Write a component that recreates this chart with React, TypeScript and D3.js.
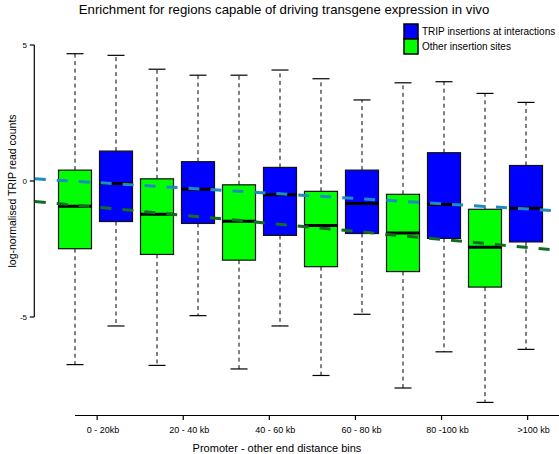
import React from "react";
import * as d3 from "d3";

const groups = ["0 - 20kb", "20 - 40 kb", "40 - 60 kb", "60 - 80 kb", "80 -100 kb", ">100 kb"];
// [min, q1, median, q3, max]
const otherStats = [
  [-6.75, -2.49, -0.93, 0.4, 4.68],
  [-6.78, -2.7, -1.22, 0.08, 4.11],
  [-6.91, -2.91, -1.48, -0.14, 3.89],
  [-7.15, -3.15, -1.64, -0.38, 3.76],
  [-7.61, -3.33, -1.91, -0.49, 3.61],
  [-8.14, -3.9, -2.44, -1.04, 3.22],
];
const tripStats = [
  [-5.33, -1.49, -0.09, 1.1, 4.62],
  [-4.95, -1.56, -0.3, 0.71, 3.89],
  [-5.33, -2.0, -0.51, 0.5, 4.08],
  [-4.9, -1.93, -0.83, 0.4, 2.98],
  [-6.28, -2.11, -0.86, 1.04, 3.65],
  [-6.19, -2.24, -1.0, 0.57, 2.89],
];
// trend lines: [position, value] endpoints
const tripTrend = [[0, 0.08], [12.8, -1.1]];
const otherTrend = [[0, -0.75], [12.8, -2.55]];
const groupTickPos = [1.54, 3.64, 5.74, 7.84, 9.94, 12.04];
const yTicks = [-5, 0, 5];
const seriesNames = ["TRIP insertions at interactions", "Other insertion sites"];

const W = 559, H = 454;
const FONT = "'Liberation Sans', Arial, Helvetica, sans-serif";
const BLUE = "#0000ff", GREEN = "#00ff00";
const TEAL = "#1f8cc0", DKGREEN = "#136b24";

export default function App() {
  const x = d3.scaleLinear().domain([1, 12]).range([75, 526]);
  const y = d3.scaleLinear().domain([-5, 5]).range([317, 45]);
  const axisX = 34.3;
  const boxW = 33;
  const capW = 17;

  const boxes: { pos: number; s: number[]; fill: string }[] = [];
  groups.forEach((g, i) => {
    boxes.push({ pos: 1 + i * 2, s: otherStats[i], fill: GREEN });
    boxes.push({ pos: 2 + i * 2, s: tripStats[i], fill: BLUE });
  });

  const line = d3.line<number[]>().x((d) => Math.max(x(d[0]), axisX + 0.5)).y((d) => y(d[1]));

  return (
    <svg width={W} height={H} style={{ position: "absolute", left: 0, top: 0, background: "#fff" }} fontFamily={FONT}>
      <rect width={W} height={H} fill="#fff" />
      <text x={284} y={14} fontSize={13.2} textAnchor="middle" fill="#000">
        Enrichment for regions capable of driving transgene expression in vivo
      </text>

      {/* y axis */}
      <line x1={axisX} x2={axisX} y1={y(-5)} y2={y(5)} stroke="#000" strokeWidth={1.2} />
      {yTicks.map((t) => (
        <g key={t}>
          <line x1={axisX - 4.5} x2={axisX} y1={y(t)} y2={y(t)} stroke="#000" strokeWidth={1.2} />
          <text x={27} y={y(t)} dy="0.35em" fontSize={8} textAnchor="end" fill="#000">
            {t === 0 ? "0" : t < 0 ? `-${Math.abs(t)}` : `${t}`}
          </text>
        </g>
      ))}
      <text transform={`translate(12,191) rotate(-90)`} fontSize={10.5} textAnchor="middle" dy="0.35em" fill="#000">
        log-normalised TRIP read counts
      </text>

      {/* x axis */}
      <line x1={75} x2={W} y1={415.5} y2={415.5} stroke="#000" strokeWidth={1.2} />
      {groups.map((g, i) => (
        <g key={g}>
          <line x1={x(groupTickPos[i])} x2={x(groupTickPos[i])} y1={415.5} y2={420} stroke="#000" strokeWidth={1.2} />
          <text x={x(groupTickPos[i]) + 6} y={433} fontSize={9} textAnchor="middle" fill="#000">
            {g}
          </text>
        </g>
      ))}
      <text x={277} y={452} fontSize={11} textAnchor="middle" fill="#000">
        Promoter - other end distance bins
      </text>

      {/* boxes */}
      {boxes.map((b, i) => {
        const cx = x(b.pos);
        const [mn, q1, md, q3, mx] = b.s;
        return (
          <g key={i}>
            <line x1={cx} x2={cx} y1={y(q3)} y2={y(mx)} stroke="#000" strokeWidth={1} strokeDasharray="4,3.5" />
            <line x1={cx} x2={cx} y1={y(q1)} y2={y(mn)} stroke="#000" strokeWidth={1} strokeDasharray="4,3.5" />
            <line x1={cx - capW / 2} x2={cx + capW / 2} y1={y(mx)} y2={y(mx)} stroke="#000" strokeWidth={1.2} />
            <line x1={cx - capW / 2} x2={cx + capW / 2} y1={y(mn)} y2={y(mn)} stroke="#000" strokeWidth={1.2} />
            <rect x={cx - boxW / 2} y={y(q3)} width={boxW} height={y(q1) - y(q3)} fill={b.fill} stroke="#111" strokeWidth={1.2} />
            <line x1={cx - boxW / 2} x2={cx + boxW / 2} y1={y(md)} y2={y(md)} stroke="#000" strokeWidth={3} />
          </g>
        );
      })}

      {/* trend lines */}
      <path d={line(tripTrend) || ""} stroke={TEAL} strokeWidth={3} strokeDasharray="11,11" fill="none" />
      <path d={line(otherTrend) || ""} stroke={DKGREEN} strokeWidth={3} strokeDasharray="11,11" fill="none" />

      {/* legend */}
      {seriesNames.map((n, i) => (
        <g key={n}>
          <rect x={404} y={24 + i * 15} width={14} height={15} fill={i === 0 ? BLUE : GREEN} stroke="#000" strokeWidth={1.5} />
          <text x={422} y={24 + i * 15 + 7.5} dy="0.35em" fontSize={10} fill="#000">
            {n}
          </text>
        </g>
      ))}
    </svg>
  );
}
